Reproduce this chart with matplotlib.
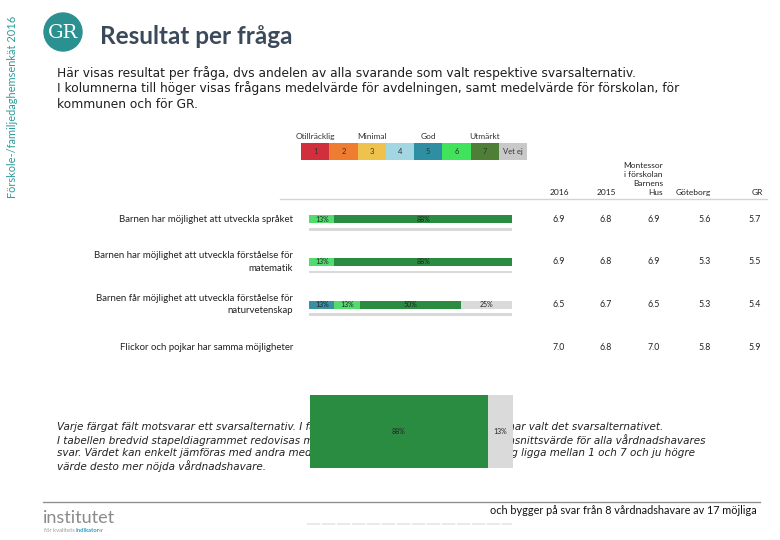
import numpy as np
import matplotlib.pyplot as plt
from matplotlib import transforms
from matplotlib.lines import Line2D
from matplotlib.patches import Ellipse

plt.rcParams['font.family'] = ['Lato', 'DejaVu Sans']

W, H = 780, 540

# Frågor och andel svarande per svarsalternativ (8 svarande)
fragor = ['Barnen har möjlighet att utveckla språket',
          'Barnen har möjlighet att utveckla förståelse för\nmatematik',
          'Barnen får möjlighet att utveckla förståelse för\nnaturvetenskap',
          'Flickor och pojkar har samma möjligheter']
svar_5 = [0, 0, 12.5, 0]
svar_6 = [12.5, 12.5, 12.5, 0]
svar_7 = [87.5, 87.5, 50.0, 0]
vet_ej = [0, 0, 25.0, 0]

# Medelvärden
kolumner = ['2016', '2015', 'Montessor\ni förskolan\nBarnens\nHus', 'Göteborg', 'GR']
medel_2016 = [6.9, 6.9, 6.5, 7.0]
medel_2015 = [6.8, 6.8, 6.7, 6.8]
medel_enhet = [6.9, 6.9, 6.5, 7.0]
medel_gbg = [5.6, 5.3, 5.3, 5.8]
medel_gr = [5.7, 5.5, 5.4, 5.9]

# Skala
skala = ['1', '2', '3', '4', '5', '6', '7', 'Vet ej']
skala_farg = ['#d22f3c', '#ee7d32', '#efc24e', '#a2d6e2', '#2f8fa2', '#41e25c', '#4f7f36', '#c9c9c9']
skala_namn = {0: 'Otillräcklig', 2: 'Minimal', 4: 'God', 6: 'Utmärkt'}

# Stapeln längst ner
total_7 = 87.5
total_vet_ej = 12.5

c5, c6, c7, cvet = '#3a8fa3', '#52dc6e', '#2a8c40', '#dadada'


def fx(x):
    return x / W


def fy(y):
    return 1 - y / H


fig = plt.figure(figsize=(7.8, 5.4), dpi=100)

# sidotext, logga och rubrik
fig.text(fx(13), fy(107), 'Förskole-/familjedaghemsenkät 2016', rotation=90,
         ha='center', va='center', fontsize=7.9, color='#2f9a9a')
fig.add_artist(Ellipse((fx(63), fy(32)), 38 / W, 38 / H, color='#2a9190'))
fig.text(fx(63), fy(33), 'GR', ha='center', va='center', fontsize=14,
         color='white', family='DejaVu Serif')
fig.text(fx(100), fy(37), 'Resultat per fråga', ha='left', va='center',
         fontsize=17.5, color='#3b4a5a', weight='bold')

intro = ['Här visas resultat per fråga, dvs andelen av alla svarande som valt respektive svarsalternativ.',
         'I kolumnerna till höger visas frågans medelvärde för avdelningen, samt medelvärde för förskolan, för',
         'kommunen och för GR.']
for i, rad in enumerate(intro):
    fig.text(fx(57), fy(73 + 15.5 * i), rad, ha='left', va='center',
             fontsize=8.8, color='#1e1e1e', family='DejaVu Sans')

# färgskala
lax = fig.add_axes([fx(301), fy(160), 226 / W, 17 / H])
lax.bar(np.arange(len(skala)), 1, width=1, color=skala_farg)
for i, s in enumerate(skala):
    lax.text(i, 0.5, s, ha='center', va='center', fontsize=5.5, color='#333333')
for i, namn in skala_namn.items():
    lax.text(i, 1.15, namn, ha='center', va='bottom', fontsize=6, color='#333333')
lax.set_xlim(-0.5, len(skala) - 0.5)
lax.set_ylim(0, 1)
lax.axis('off')

# staplar
ax = fig.add_axes([fx(309), fy(368.5), 203 / W, 170.5 / H])
y = np.arange(len(fragor))
left = np.zeros(len(fragor))
for vals, col in [(svar_5, c5), (svar_6, c6), (svar_7, c7), (vet_ej, cvet)]:
    vals = np.array(vals)
    ax.barh(y, vals, left=left, height=0.19, color=col)
    for i, v in enumerate(vals):
        if v > 0:
            ax.text(left[i] + v / 2, i, f'{int(v + 0.5)}%', ha='center', va='center',
                    fontsize=5, color='#222222')
    left = left + vals
har_svar = left > 0
ax.barh(y[har_svar] + 0.235, 100, height=0.06, color='#d9d9d9')
ax.set_xlim(0, 100)
ax.set_ylim(3.5, -0.5)
ax.axis('off')

blend = transforms.blended_transform_factory(fig.transFigure, ax.transData)
for i, f in enumerate(fragor):
    fig.text(fx(293), i, f, transform=blend, ha='right', va='center',
             fontsize=6.9, color='#222222', linespacing=1.5)

kol_x = [559, 606, 654, 705, 755]
medel = [medel_2016, medel_2015, medel_enhet, medel_gbg, medel_gr]
for x, vals in zip(kol_x, medel):
    for i, v in enumerate(vals):
        fig.text(fx(x), i, f'{v:.1f}', transform=blend, ha='center', va='center',
                 fontsize=6.3, color='#222222')

head_x = [559, 606, 663, 693, 757]
head_ha = ['center', 'center', 'right', 'center', 'center']
for x, h, ha in zip(head_x, kolumner, head_ha):
    fig.text(fx(x), fy(196), h, ha=ha, va='bottom', fontsize=6, color='#222222',
             linespacing=1.35, multialignment='right')
fig.add_artist(Line2D([fx(280), fx(767)], [fy(199), fy(199)], color='#d4d4d4', lw=1))

# förklarande text
forklaring = ['Varje färgat fält motsvarar ett svarsalternativ. I fältet anges andelen av svarande som har valt det svarsalternativet.',
              'I tabellen bredvid stapeldiagrammet redovisas medelvärden. Medelvärdet är ett genomsnittsvärde för alla vårdnadshavares',
              'svar. Värdet kan enkelt jämföras med andra medelvärden. Värdet kan i denna beräkning ligga mellan 1 och 7 och ju högre',
              'värde desto mer nöjda vårdnadshavare.']
for i, rad in enumerate(forklaring):
    fig.text(fx(57), fy(427 + 13 * i), rad, ha='left', va='center',
             fontsize=7.5, style='italic', color='#222222', family='DejaVu Sans')

bax = fig.add_axes([fx(310), fy(468), 203 / W, 73 / H])
bax.set_zorder(5)
bax.barh(0, total_7, height=1, color=c7)
bax.barh(0, total_vet_ej, left=total_7, height=1, color=cvet)
bax.text(total_7 / 2, 0, f'{int(total_7 + 0.5)}%', ha='center', va='center',
         fontsize=5, color='#222222')
bax.text(total_7 + total_vet_ej / 2, 0, f'{int(total_vet_ej + 0.5)}%', ha='center',
         va='center', fontsize=5, color='#222222')
bax.set_xlim(0, 100)
bax.set_ylim(-0.5, 0.5)
bax.axis('off')

# sidfot
fig.add_artist(Line2D([fx(43), fx(760)], [fy(502), fy(502)], color='#909090', lw=1))
fig.add_artist(Line2D([fx(307), fx(512)], [fy(524), fy(524)], color='#e6e6e6', lw=1.2,
                      linestyle=(0, (8, 1))))
fig.text(fx(757), fy(510), 'och bygger på svar från 8 vårdnadshavare av 17 möjliga',
         ha='right', va='center', fontsize=7.8, color='#111111')
fig.text(fx(43), fy(518), 'institutet', ha='left', va='center', fontsize=13,
         color='#8a8a8a')
fig.text(fx(44), fy(531), 'för kvalitets', ha='left', va='center', fontsize=4.2,
         color='#9a9a9a')
fig.text(fx(75), fy(531), 'Indikator', ha='left', va='center', fontsize=4.2,
         color='#2a9fc8', weight='bold')
fig.text(fx(99), fy(531), 'er', ha='left', va='center', fontsize=4.2,
         color='#9a9a9a')

fig.savefig('out.png', dpi=100)
